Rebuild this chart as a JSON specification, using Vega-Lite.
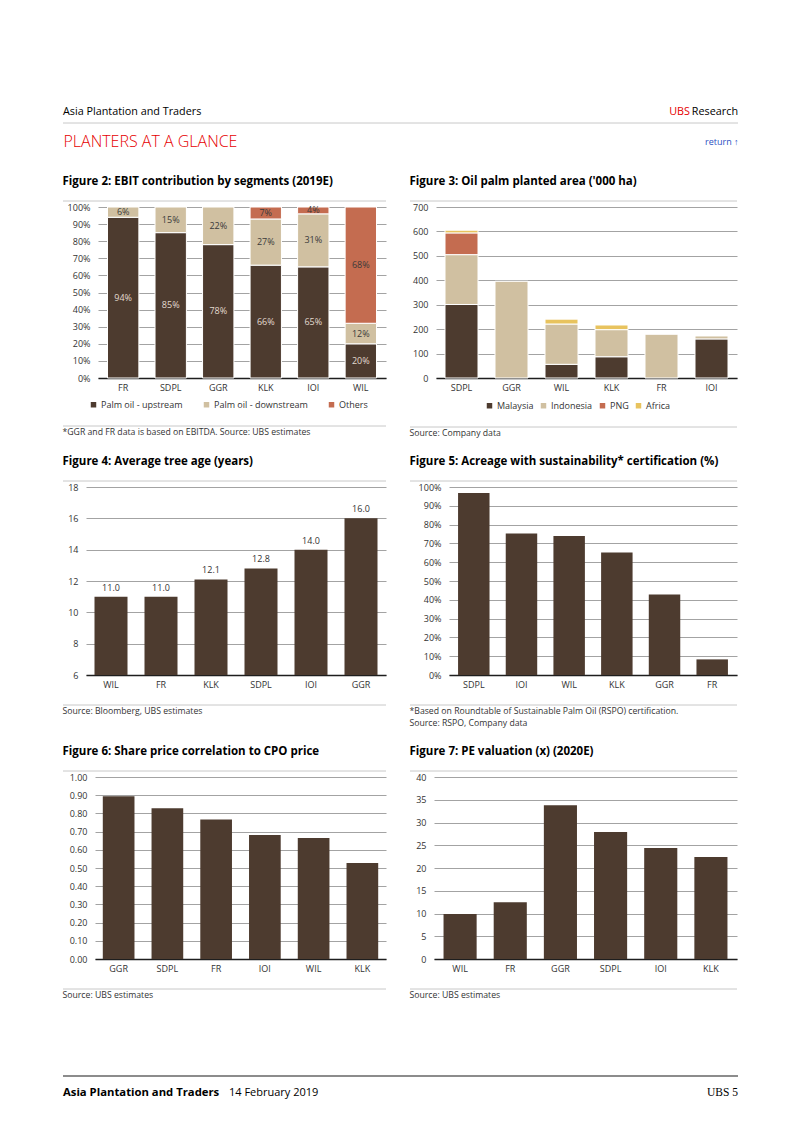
{
  "$schema": "https://vega.github.io/schema/vega-lite/v6.json",
  "background": "white",
  "padding": {"left": 62, "top": 106, "right": 20, "bottom": 20},
  "config": {
    "font": "Open Sans",
    "view": {"stroke": null},
    "title": {"anchor": "start", "fontSize": 11.5, "fontWeight": "bold", "color": "#000000", "offset": 13, "font": "Open Sans"},
    "axis": {"labelFontSize": 9, "labelColor": "#333333", "labelFont": "Open Sans", "titleFont": "Open Sans"},
    "axisX": {"ticks": false, "domainColor": "#1e1e1e", "domainWidth": 1.5, "labelAngle": 0, "labelPadding": 5, "grid": false},
    "axisY": {"ticks": false, "domain": false, "gridColor": "#a3a3a3", "gridWidth": 1, "labelPadding": 8},
    "bar": {"color": "#4D3B2F"},
    "legend": {"labelFontSize": 9, "labelColor": "#333333", "labelFont": "Open Sans"}
  },
  "spacing": 26,
  "resolve": {"scale": {"color": "independent"}, "legend": {"color": "independent"}},
  "vconcat": [
    {
      "spacing": 4,
      "vconcat": [
        {
          "spacing": 0,
          "hconcat": [
            {
              "width": 605, "height": 1, "data": {"values": [{}]},
              "title": {"text": "Asia Plantation and Traders", "fontSize": 10.8, "fontWeight": "normal", "offset": 0},
              "mark": {"type": "rule", "strokeOpacity": 0},
              "encoding": {"y": {"datum": 0, "type": "quantitative", "scale": {"domain": [0, 1]}, "axis": null}}
            },
            {
              "width": 22, "height": 1, "data": {"values": [{}]},
              "title": {"text": "UBS", "anchor": "end", "fontSize": 10.8, "fontWeight": "normal", "color": "#E60000", "offset": 0},
              "mark": {"type": "rule", "strokeOpacity": 0},
              "encoding": {"y": {"datum": 0, "type": "quantitative", "scale": {"domain": [0, 1]}, "axis": null}}
            },
            {
              "width": 48, "height": 1, "data": {"values": [{}]},
              "title": {"text": "Research", "anchor": "end", "fontSize": 10.8, "fontWeight": "normal", "offset": 0},
              "mark": {"type": "rule", "strokeOpacity": 0},
              "encoding": {"y": {"datum": 0, "type": "quantitative", "scale": {"domain": [0, 1]}, "axis": null}}
            }
          ]
        },
        {
          "width": 675, "height": 1, "data": {"values": [{}]},
          "title": {"text": "return ↑", "orient": "bottom", "anchor": "end", "fontSize": 9, "fontWeight": "normal", "color": "#2B4FC2", "offset": 0, "dy": -11},
          "mark": {"type": "rule", "color": "#c8c8c8", "strokeWidth": 1},
          "encoding": {
            "x": {"datum": 0, "type": "quantitative", "scale": {"domain": [0, 1]},
              "axis": {"orient": "bottom", "domain": false, "labels": false, "ticks": false, "grid": false,
                "title": "PLANTERS AT A GLANCE", "titleAnchor": "start", "titleAlign": "left", "titleFontSize": 16,
                "titleFontWeight": 300, "titleColor": "#E60000", "titlePadding": 9, "titleBaseline": "top"}},
            "x2": {"datum": 1},
            "y": {"datum": 1, "type": "quantitative", "scale": {"domain": [0, 1]}, "axis": null}
          }
        }
      ]
    },
    {
      "spacing": 17,
      "resolve": {"scale": {"color": "independent"}, "legend": {"color": "independent"}},
      "vconcat": [
        {
          "spacing": 22,
          "resolve": {"scale": {"color": "independent"}, "legend": {"color": "independent"}},
          "hconcat": [
            {
              "spacing": 1,
              "resolve": {"scale": {"color": "independent"}, "legend": {"color": "independent"}},
              "vconcat": [
                {
                  "width": 323, "height": 1, "data": {"values": [{}]},
                  "title": {"text": "Figure 2: EBIT contribution by segments (2019E)"},
                  "mark": {"type": "rule", "color": "#c8c8c8"},
                  "encoding": {"y": {"datum": 0, "type": "quantitative", "scale": {"domain": [0, 1]}, "axis": null}}
                },
                {
                  "spacing": 0,
                  "resolve": {"scale": {"color": "independent"}, "legend": {"color": "independent"}},
                  "hconcat": [
                    {
                      "width": 1, "height": 1, "data": {"values": [{}]},
                      "mark": {"type": "rule", "strokeOpacity": 0},
                      "encoding": {"y": {"datum": 0, "type": "quantitative", "scale": {"domain": [0, 1]}, "axis": null}}
                    },
                    {
                      "width": 288, "height": 171,
                      "data": {"values": [
                        {"company": "FR", "segment": "Palm oil - upstream", "share": 0.94, "rank": 1},
                        {"company": "FR", "segment": "Palm oil - downstream", "share": 0.06, "rank": 2},
                        {"company": "SDPL", "segment": "Palm oil - upstream", "share": 0.85, "rank": 1},
                        {"company": "SDPL", "segment": "Palm oil - downstream", "share": 0.15, "rank": 2},
                        {"company": "GGR", "segment": "Palm oil - upstream", "share": 0.78, "rank": 1},
                        {"company": "GGR", "segment": "Palm oil - downstream", "share": 0.22, "rank": 2},
                        {"company": "KLK", "segment": "Palm oil - upstream", "share": 0.66, "rank": 1},
                        {"company": "KLK", "segment": "Palm oil - downstream", "share": 0.27, "rank": 2},
                        {"company": "KLK", "segment": "Others", "share": 0.07, "rank": 3},
                        {"company": "IOI", "segment": "Palm oil - upstream", "share": 0.65, "rank": 1},
                        {"company": "IOI", "segment": "Palm oil - downstream", "share": 0.31, "rank": 2},
                        {"company": "IOI", "segment": "Others", "share": 0.04, "rank": 3},
                        {"company": "WIL", "segment": "Palm oil - upstream", "share": 0.20, "rank": 1},
                        {"company": "WIL", "segment": "Palm oil - downstream", "share": 0.12, "rank": 2},
                        {"company": "WIL", "segment": "Others", "share": 0.68, "rank": 3}
                      ]},
                      "encoding": {
                        "x": {"field": "company", "type": "nominal", "sort": ["FR", "SDPL", "GGR", "KLK", "IOI", "WIL"],
                          "scale": {"paddingInner": 0.34, "paddingOuter": 0.2}, "axis": {"title": null}}
                      },
                      "layer": [
                        {
                          "mark": {"type": "bar", "stroke": "white", "strokeWidth": 1},
                          "encoding": {
                            "y": {"field": "share", "type": "quantitative", "stack": "zero",
                              "scale": {"domain": [0, 1], "nice": false},
                              "axis": {"title": null, "values": [0, 0.1, 0.2, 0.3, 0.4, 0.5, 0.6, 0.7, 0.8, 0.9, 1], "format": ".0%", "minExtent": 34}},
                            "color": {"field": "segment", "type": "nominal",
                              "scale": {"domain": ["Palm oil - upstream", "Palm oil - downstream", "Others"], "range": ["#4D3B2F", "#D0C0A1", "#C46C50"]},
                              "legend": {"orient": "none", "direction": "horizontal", "legendX": -9, "legendY": 193, "title": null,
                                "symbolType": "square", "symbolSize": 30, "symbolStrokeWidth": 0, "columnPadding": 19, "labelOffset": 3}},
                            "order": {"field": "rank", "type": "quantitative"}
                          }
                        },
                        {
                          "mark": {"type": "text", "fontSize": 9},
                          "encoding": {
                            "y": {"field": "share", "type": "quantitative", "stack": "zero", "bandPosition": 0.5,
                              "scale": {"domain": [0, 1], "nice": false},
                              "axis": {"title": null, "values": [0, 0.1, 0.2, 0.3, 0.4, 0.5, 0.6, 0.7, 0.8, 0.9, 1], "format": ".0%", "minExtent": 34}},
                            "detail": {"field": "segment"},
                            "order": {"field": "rank", "type": "quantitative"},
                            "text": {"field": "share", "type": "quantitative", "format": ".0%"},
                            "color": {"condition": {"test": "datum.segment === 'Palm oil - upstream'", "value": "#e2dad0"}, "value": "#3a3a3a"}
                          }
                        }
                      ]
                    }
                  ]
                },
                {
                  "width": 323, "height": 15, "data": {"values": [{}]},
                  "title": {"text": "*GGR and FR data is based on EBITDA. Source:  UBS estimates", "orient": "bottom", "fontSize": 8.7, "fontWeight": "normal", "color": "#333333", "offset": 1},
                  "mark": {"type": "rule", "color": "#c8c8c8"},
                  "encoding": {"y": {"datum": 0, "type": "quantitative", "scale": {"domain": [0, 1]}, "axis": null}}
                }
              ]
            },
            {
              "spacing": 1,
              "resolve": {"scale": {"color": "independent"}, "legend": {"color": "independent"}},
              "vconcat": [
                {
                  "width": 327, "height": 1, "data": {"values": [{}]},
                  "title": {"text": "Figure 3: Oil palm planted area ('000 ha)"},
                  "mark": {"type": "rule", "color": "#c8c8c8"},
                  "encoding": {"y": {"datum": 0, "type": "quantitative", "scale": {"domain": [0, 1]}, "axis": null}}
                },
                {
                  "spacing": 0,
                  "resolve": {"scale": {"color": "independent"}, "legend": {"color": "independent"}},
                  "hconcat": [
                    {
                      "width": 1, "height": 1, "data": {"values": [{}]},
                      "mark": {"type": "rule", "strokeOpacity": 0},
                      "encoding": {"y": {"datum": 0, "type": "quantitative", "scale": {"domain": [0, 1]}, "axis": null}}
                    },
                    {
                      "width": 301, "height": 171,
                      "data": {"values": [
                        {"company": "SDPL", "region": "Malaysia", "area": 301, "rank": 1},
                        {"company": "SDPL", "region": "Indonesia", "area": 204, "rank": 2},
                        {"company": "SDPL", "region": "PNG", "area": 89, "rank": 3},
                        {"company": "SDPL", "region": "Africa", "area": 11, "rank": 4},
                        {"company": "GGR", "region": "Indonesia", "area": 396, "rank": 2},
                        {"company": "WIL", "region": "Malaysia", "area": 56, "rank": 1},
                        {"company": "WIL", "region": "Indonesia", "area": 165, "rank": 2},
                        {"company": "WIL", "region": "Africa", "area": 20, "rank": 4},
                        {"company": "KLK", "region": "Malaysia", "area": 87, "rank": 1},
                        {"company": "KLK", "region": "Indonesia", "area": 111, "rank": 2},
                        {"company": "KLK", "region": "Africa", "area": 19, "rank": 4},
                        {"company": "FR", "region": "Indonesia", "area": 179, "rank": 2},
                        {"company": "IOI", "region": "Malaysia", "area": 160, "rank": 1},
                        {"company": "IOI", "region": "Indonesia", "area": 12, "rank": 2}
                      ]},
                      "mark": {"type": "bar", "stroke": "white", "strokeWidth": 1},
                      "encoding": {
                        "x": {"field": "company", "type": "nominal", "sort": ["SDPL", "GGR", "WIL", "KLK", "FR", "IOI"],
                          "scale": {"paddingInner": 0.34, "paddingOuter": 0.18}, "axis": {"title": null}},
                        "y": {"field": "area", "type": "quantitative", "stack": "zero",
                          "scale": {"domain": [0, 700], "nice": false},
                          "axis": {"title": null, "values": [0, 100, 200, 300, 400, 500, 600, 700], "minExtent": 25}},
                        "color": {"field": "region", "type": "nominal",
                          "scale": {"domain": ["Malaysia", "Indonesia", "PNG", "Africa"], "range": ["#4D3B2F", "#D0C0A1", "#C46C50", "#E8C35E"]},
                          "legend": {"orient": "none", "direction": "horizontal", "legendX": 49, "legendY": 194, "title": null,
                            "symbolType": "square", "symbolSize": 30, "symbolStrokeWidth": 0, "columnPadding": 5, "labelOffset": 3}},
                        "order": {"field": "rank", "type": "quantitative"}
                      }
                    }
                  ]
                },
                {
                  "width": 327, "height": 15, "data": {"values": [{}]},
                  "title": {"text": "Source:  Company data", "orient": "bottom", "fontSize": 8.7, "fontWeight": "normal", "color": "#333333", "offset": 1},
                  "mark": {"type": "rule", "color": "#c8c8c8"},
                  "encoding": {"y": {"datum": 0, "type": "quantitative", "scale": {"domain": [0, 1]}, "axis": null}}
                }
              ]
            }
          ]
        },
        {
          "spacing": 22,
          "hconcat": [
            {
              "spacing": 1,
              "vconcat": [
                {
                  "width": 323, "height": 1, "data": {"values": [{}]},
                  "title": {"text": "Figure 4: Average tree age (years)"},
                  "mark": {"type": "rule", "color": "#c8c8c8"},
                  "encoding": {"y": {"datum": 0, "type": "quantitative", "scale": {"domain": [0, 1]}, "axis": null}}
                },
                {
                  "spacing": 0,
                  "hconcat": [
                    {
                      "width": 1, "height": 1, "data": {"values": [{}]},
                      "mark": {"type": "rule", "strokeOpacity": 0},
                      "encoding": {"y": {"datum": 0, "type": "quantitative", "scale": {"domain": [0, 1]}, "axis": null}}
                    },
                    {
                      "width": 300, "height": 188,
                      "data": {"values": [
                        {"company": "WIL", "age": 11.0},
                        {"company": "FR", "age": 11.0},
                        {"company": "KLK", "age": 12.1},
                        {"company": "SDPL", "age": 12.8},
                        {"company": "IOI", "age": 14.0},
                        {"company": "GGR", "age": 16.0}
                      ]},
                      "encoding": {
                        "x": {"field": "company", "type": "nominal", "sort": null,
                          "scale": {"paddingInner": 0.34, "paddingOuter": 0.17}, "axis": {"title": null}},
                        "y": {"field": "age", "type": "quantitative",
                          "scale": {"domain": [6, 18], "nice": false, "zero": false},
                          "axis": {"title": null, "values": [6, 8, 10, 12, 14, 16, 18], "minExtent": 22}}
                      },
                      "layer": [
                        {"mark": "bar", "encoding": {"y2": {"datum": 6}}},
                        {"mark": {"type": "text", "baseline": "bottom", "dy": -4, "fontSize": 9, "color": "#333333"},
                          "encoding": {"text": {"field": "age", "type": "quantitative", "format": ".1f"}}}
                      ]
                    }
                  ]
                },
                {
                  "width": 323, "height": 15, "data": {"values": [{}]},
                  "title": {"text": "Source:  Bloomberg, UBS estimates", "orient": "bottom", "fontSize": 8.7, "fontWeight": "normal", "color": "#333333", "offset": 1},
                  "mark": {"type": "rule", "color": "#c8c8c8"},
                  "encoding": {"y": {"datum": 0, "type": "quantitative", "scale": {"domain": [0, 1]}, "axis": null}}
                }
              ]
            },
            {
              "spacing": 1,
              "vconcat": [
                {
                  "width": 327, "height": 1, "data": {"values": [{}]},
                  "title": {"text": "Figure 5: Acreage with sustainability* certification (%)"},
                  "mark": {"type": "rule", "color": "#c8c8c8"},
                  "encoding": {"y": {"datum": 0, "type": "quantitative", "scale": {"domain": [0, 1]}, "axis": null}}
                },
                {
                  "spacing": 0,
                  "hconcat": [
                    {
                      "width": 1, "height": 1, "data": {"values": [{}]},
                      "mark": {"type": "rule", "strokeOpacity": 0},
                      "encoding": {"y": {"datum": 0, "type": "quantitative", "scale": {"domain": [0, 1]}, "axis": null}}
                    },
                    {
                      "width": 288, "height": 188,
                      "data": {"values": [
                        {"company": "SDPL", "certified": 0.968},
                        {"company": "IOI", "certified": 0.753},
                        {"company": "WIL", "certified": 0.740},
                        {"company": "KLK", "certified": 0.652},
                        {"company": "GGR", "certified": 0.428},
                        {"company": "FR", "certified": 0.083}
                      ]},
                      "mark": "bar",
                      "encoding": {
                        "x": {"field": "company", "type": "nominal", "sort": null,
                          "scale": {"paddingInner": 0.34, "paddingOuter": 0.19}, "axis": {"title": null}},
                        "y": {"field": "certified", "type": "quantitative",
                          "scale": {"domain": [0, 1], "nice": false},
                          "axis": {"title": null, "values": [0, 0.1, 0.2, 0.3, 0.4, 0.5, 0.6, 0.7, 0.8, 0.9, 1], "format": ".0%", "minExtent": 38}}
                      }
                    }
                  ]
                },
                {
                  "width": 327, "height": 15, "data": {"values": [{}]},
                  "title": {"text": ["*Based on Roundtable of Sustainable Palm Oil (RSPO) certification.", "Source:  RSPO, Company data"], "orient": "bottom", "fontSize": 8.7, "fontWeight": "normal", "color": "#333333", "offset": 1, "lineHeight": 12},
                  "mark": {"type": "rule", "color": "#c8c8c8"},
                  "encoding": {"y": {"datum": 0, "type": "quantitative", "scale": {"domain": [0, 1]}, "axis": null}}
                }
              ]
            }
          ]
        },
        {
          "spacing": 75,
          "vconcat": [
            {
              "spacing": 22,
              "hconcat": [
                {
                  "spacing": 1,
                  "vconcat": [
                    {
                      "width": 323, "height": 1, "data": {"values": [{}]},
                      "title": {"text": "Figure 6: Share price correlation to CPO price"},
                      "mark": {"type": "rule", "color": "#c8c8c8"},
                      "encoding": {"y": {"datum": 0, "type": "quantitative", "scale": {"domain": [0, 1]}, "axis": null}}
                    },
                    {
                      "spacing": 0,
                      "hconcat": [
                        {
                          "width": 1, "height": 1, "data": {"values": [{}]},
                          "mark": {"type": "rule", "strokeOpacity": 0},
                          "encoding": {"y": {"datum": 0, "type": "quantitative", "scale": {"domain": [0, 1]}, "axis": null}}
                        },
                        {
                          "width": 291, "height": 182,
                          "data": {"values": [
                            {"company": "GGR", "correlation": 0.894},
                            {"company": "SDPL", "correlation": 0.828},
                            {"company": "FR", "correlation": 0.766},
                            {"company": "IOI", "correlation": 0.682},
                            {"company": "WIL", "correlation": 0.665},
                            {"company": "KLK", "correlation": 0.527}
                          ]},
                          "mark": "bar",
                          "encoding": {
                            "x": {"field": "company", "type": "nominal", "sort": null,
                              "scale": {"paddingInner": 0.35, "paddingOuter": 0.16}, "axis": {"title": null}},
                            "y": {"field": "correlation", "type": "quantitative",
                              "scale": {"domain": [0, 1], "nice": false},
                              "axis": {"title": null, "values": [0, 0.1, 0.2, 0.3, 0.4, 0.5, 0.6, 0.7, 0.8, 0.9, 1], "format": ".2f", "minExtent": 31}}
                          }
                        }
                      ]
                    },
                    {
                      "width": 323, "height": 15, "data": {"values": [{}]},
                      "title": {"text": "Source:  UBS estimates", "orient": "bottom", "fontSize": 8.7, "fontWeight": "normal", "color": "#333333", "offset": 1},
                      "mark": {"type": "rule", "color": "#c8c8c8"},
                      "encoding": {"y": {"datum": 0, "type": "quantitative", "scale": {"domain": [0, 1]}, "axis": null}}
                    }
                  ]
                },
                {
                  "spacing": 1,
                  "vconcat": [
                    {
                      "width": 327, "height": 1, "data": {"values": [{}]},
                      "title": {"text": "Figure 7: PE valuation (x) (2020E)"},
                      "mark": {"type": "rule", "color": "#c8c8c8"},
                      "encoding": {"y": {"datum": 0, "type": "quantitative", "scale": {"domain": [0, 1]}, "axis": null}}
                    },
                    {
                      "spacing": 0,
                      "hconcat": [
                        {
                          "width": 1, "height": 1, "data": {"values": [{}]},
                          "mark": {"type": "rule", "strokeOpacity": 0},
                          "encoding": {"y": {"datum": 0, "type": "quantitative", "scale": {"domain": [0, 1]}, "axis": null}}
                        },
                        {
                          "width": 303, "height": 182,
                          "data": {"values": [
                            {"company": "WIL", "pe": 9.9},
                            {"company": "FR", "pe": 12.5},
                            {"company": "GGR", "pe": 33.8},
                            {"company": "SDPL", "pe": 27.9},
                            {"company": "IOI", "pe": 24.4},
                            {"company": "KLK", "pe": 22.4}
                          ]},
                          "mark": "bar",
                          "encoding": {
                            "x": {"field": "company", "type": "nominal", "sort": null,
                              "scale": {"paddingInner": 0.34, "paddingOuter": 0.19}, "axis": {"title": null}},
                            "y": {"field": "pe", "type": "quantitative",
                              "scale": {"domain": [0, 40], "nice": false},
                              "axis": {"title": null, "values": [0, 5, 10, 15, 20, 25, 30, 35, 40], "minExtent": 23}}
                          }
                        }
                      ]
                    },
                    {
                      "width": 327, "height": 15, "data": {"values": [{}]},
                      "title": {"text": "Source:  UBS estimates", "orient": "bottom", "fontSize": 8.7, "fontWeight": "normal", "color": "#333333", "offset": 1},
                      "mark": {"type": "rule", "color": "#c8c8c8"},
                      "encoding": {"y": {"datum": 0, "type": "quantitative", "scale": {"domain": [0, 1]}, "axis": null}}
                    }
                  ]
                }
              ]
            },
            {
              "spacing": 9,
              "vconcat": [
                {
                  "width": 675, "height": 1, "data": {"values": [{}]},
                  "mark": {"type": "rule", "color": "#666666", "strokeWidth": 1.5},
                  "encoding": {"y": {"datum": 1, "type": "quantitative", "scale": {"domain": [0, 1]}, "axis": null}}
                },
                {
                  "spacing": 0,
                  "hconcat": [
                    {
                      "width": 166, "height": 1, "data": {"values": [{}]},
                      "title": {"text": "Asia Plantation and Traders", "fontSize": 11.3, "fontWeight": "bold", "offset": 0},
                      "mark": {"type": "rule", "strokeOpacity": 0},
                      "encoding": {"y": {"datum": 0, "type": "quantitative", "scale": {"domain": [0, 1]}, "axis": null}}
                    },
                    {
                      "width": 465, "height": 1, "data": {"values": [{}]},
                      "title": {"text": "14 February 2019", "fontSize": 11, "fontWeight": "normal", "offset": 0},
                      "mark": {"type": "rule", "strokeOpacity": 0},
                      "encoding": {"y": {"datum": 0, "type": "quantitative", "scale": {"domain": [0, 1]}, "axis": null}}
                    },
                    {
                      "width": 44, "height": 1, "data": {"values": [{}]},
                      "title": {"text": "UBS 5", "anchor": "end", "fontSize": 11.5, "fontWeight": "normal", "font": "Liberation Serif", "offset": 0},
                      "mark": {"type": "rule", "strokeOpacity": 0},
                      "encoding": {"y": {"datum": 0, "type": "quantitative", "scale": {"domain": [0, 1]}, "axis": null}}
                    }
                  ]
                }
              ]
            }
          ]
        }
      ]
    }
  ]
}
